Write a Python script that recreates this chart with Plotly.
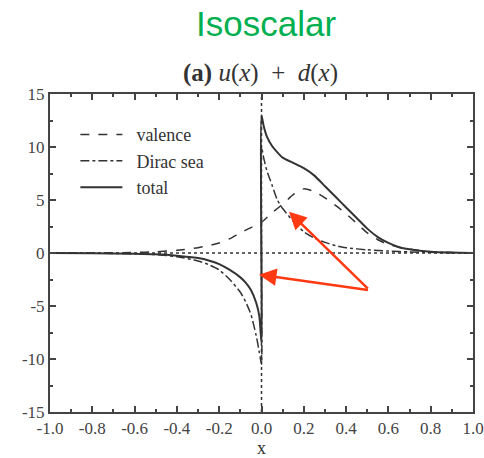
import plotly.graph_objects as go

# ---- data ----
valence_x = [-1.0, -0.8, -0.6, -0.5, -0.4, -0.3, -0.25, -0.2, -0.15, -0.1, -0.05, 0.0,
             0.05, 0.1, 0.15, 0.2, 0.25, 0.3, 0.35, 0.4, 0.45, 0.5, 0.55, 0.6, 0.7, 0.8, 0.9, 1.0]
valence_y = [0.0, 0.01, 0.05, 0.12, 0.25, 0.5, 0.7, 0.95, 1.35, 1.9, 2.4, 2.9,
             3.8, 4.6, 5.5, 6.05, 5.8, 5.2, 4.5, 3.7, 2.8, 1.9, 1.25, 0.8, 0.35, 0.12, 0.04, 0.01]

dirac_x = [-1.0, -0.8, -0.6, -0.5, -0.4, -0.3, -0.25, -0.2, -0.15, -0.1, -0.075, -0.05, -0.025, -0.01, 0.0,
           0.0, 0.01, 0.025, 0.05, 0.075, 0.1, 0.15, 0.2, 0.25, 0.3, 0.35, 0.4, 0.5, 0.6, 0.7, 0.8, 0.9, 1.0]
dirac_y = [0.0, -0.02, -0.08, -0.15, -0.35, -0.75, -1.1, -1.6, -2.5, -3.7, -4.6, -5.8, -7.8, -9.4, -10.5,
           10.0, 9.0, 7.8, 6.4, 5.0, 4.2, 3.0, 2.0, 1.4, 1.0, 0.7, 0.5, 0.3, 0.18, 0.1, 0.06, 0.03, 0.01]

total_x = [-1.0, -0.8, -0.6, -0.5, -0.4, -0.3, -0.25, -0.2, -0.15, -0.1, -0.075, -0.05, -0.025, -0.01, 0.0,
           0.0, 0.01, 0.025, 0.05, 0.075, 0.1, 0.15, 0.2, 0.25, 0.3, 0.35, 0.4, 0.45, 0.5, 0.55, 0.6, 0.65, 0.7, 0.8, 0.9, 1.0]
total_y = [0.0, -0.02, -0.07, -0.12, -0.25, -0.48, -0.7, -1.05, -1.6, -2.3, -2.8, -3.5, -4.7, -6.0, -8.5,
           13.0, 12.0, 11.0, 10.1, 9.5, 9.0, 8.5, 8.0, 7.3, 6.3, 5.3, 4.3, 3.3, 2.3, 1.5, 0.95, 0.55, 0.35, 0.12, 0.04, 0.01]

x_ticks = [-1.0, -0.8, -0.6, -0.4, -0.2, 0.0, 0.2, 0.4, 0.6, 0.8, 1.0]
y_ticks = [-15, -10, -5, 0, 5, 10, 15]

LINE = "#333333"
SERIF = "Liberation Serif, Times New Roman, serif"

fig = go.Figure()
fig.add_trace(go.Scatter(x=valence_x, y=valence_y, mode="lines", name="&nbsp;&nbsp;valence",
                         line=dict(color=LINE, width=1.5, dash="dash", shape="spline", smoothing=0.6)))
fig.add_trace(go.Scatter(x=dirac_x, y=dirac_y, mode="lines", name="&nbsp;&nbsp;Dirac sea",
                         line=dict(color=LINE, width=1.5, dash="dashdot", shape="spline", smoothing=0.6)))
fig.add_trace(go.Scatter(x=total_x, y=total_y, mode="lines", name="&nbsp;&nbsp;total",
                         line=dict(color=LINE, width=2, shape="spline", smoothing=0.6)))

# reference lines
fig.add_shape(type="line", x0=0, x1=0, y0=-15, y1=15, xref="x", yref="y",
              line=dict(color=LINE, width=1.5, dash="dot"), layer="below")
fig.add_shape(type="line", x0=-1, x1=1, y0=0, y1=0, xref="x", yref="y",
              line=dict(color=LINE, width=1.5, dash="dot"), layer="below")

axis_common = dict(
    showline=True, linecolor="#444444", linewidth=2, mirror="allticks",
    ticks="inside", ticklen=6, tickwidth=1.5, tickcolor="#444444",
    showgrid=False, zeroline=False, automargin=False, ticklabeloverflow="allow",
    tickfont=dict(family=SERIF, size=17, color="#444444"),
)

fig.update_xaxes(range=[-1, 1], tickvals=x_ticks, ticktext=[f"{v:.1f}" for v in x_ticks],
                 minor=dict(dtick=0.1, ticks="inside", ticklen=3, tickcolor="#444444", tickwidth=1.5),
                 title=dict(text="x", font=dict(family=SERIF, size=18, color="#333333"), standoff=2),
                 **axis_common)
fig.update_yaxes(range=[-15, 15], tickvals=y_ticks, ticktext=[str(v) for v in y_ticks],
                 minor=dict(dtick=2.5, ticks="inside", ticklen=3, tickcolor="#444444", tickwidth=1.5),
                 **axis_common)

# title texts
fig.add_annotation(text="Isoscalar", xref="paper", yref="paper", x=0.51, y=1.0, yshift=71,
                   showarrow=False, yanchor="middle",
                   font=dict(family="Liberation Sans, Arial, sans-serif", size=35, color="#00B050"))
fig.add_annotation(text="<b>(a)</b> <i>u</i>(<i>x</i>)&nbsp; +&nbsp; <i>d</i>(<i>x</i>)",
                   xref="paper", yref="paper", x=0.4988, y=1.0, yshift=21,
                   showarrow=False, yanchor="middle",
                   font=dict(family=SERIF, size=25, color="#333333"))

# red arrows
ARROW = "#FF3A12"
for hx, hy in [(0.13, 3.9), (-0.012, -2.05)]:
    fig.add_annotation(x=hx, y=hy, ax=0.51, ay=-3.5, xref="x", yref="y", axref="x", ayref="y",
                       showarrow=True, arrowhead=2, arrowsize=1.4, arrowwidth=2.5,
                       arrowcolor=ARROW, text="")

fig.update_layout(
    width=484, height=458,
    margin=dict(l=50, r=11, t=94, b=46),
    paper_bgcolor="white", plot_bgcolor="white",
    showlegend=True,
    legend=dict(x=0.06, y=0.93, xanchor="left", yanchor="top", itemwidth=42,
                bgcolor="rgba(0,0,0,0)", borderwidth=0,
                font=dict(family=SERIF, size=18, color="#333333")),
)

fig.write_html("out.html")
